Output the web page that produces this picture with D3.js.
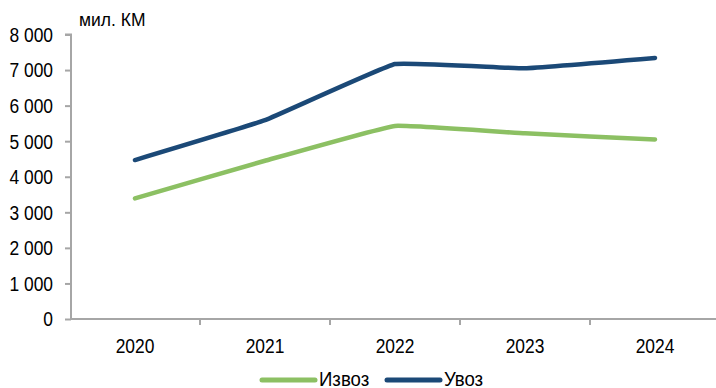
<!DOCTYPE html>
<html><head><meta charset="utf-8">
<script src="https://cdn.jsdelivr.net/npm/d3@7"></script>
<style>
body{margin:0;background:#fff;}
svg text{font-family:"Liberation Sans",Arial,sans-serif;fill:#000;}
</style></head>
<body><svg id="c" width="716" height="388"></svg>
<script>
const years = ["2020","2021","2022","2023","2024"];
const izvoz = [3390, 4450, 5430, 5220, 5050];
const uvoz  = [4470, 5590, 7170, 7050, 7340];
const yTicks = [0,1000,2000,3000,4000,5000,6000,7000,8000];
const seriesNames = ["Извоз","Увоз"];
const colors = ["#8CC063","#1B4977"];

const svg = d3.select("#c");
const x = d3.scaleBand().domain(years).range([70,720]);
const y = d3.scaleLinear().domain([0,8000]).range([319,34.5]);
const fmt = v => d3.format(",")(v).replace(/,/g," ");

// y axis
const ya = svg.append("g").attr("transform","translate(71,0)")
  .call(d3.axisLeft(y).tickValues(yTicks).tickSize(6).tickPadding(12).tickFormat(fmt));
ya.select(".domain").attr("stroke","#A6A6A6").attr("stroke-width",2).attr("d","M-6,34.5H0V319");
ya.selectAll(".tick line").attr("stroke","#A6A6A6").attr("stroke-width",2);
ya.selectAll(".tick text").attr("font-size","20px").attr("dy","0.34em").attr("data-s",0.87);

// x axis
const xa = svg.append("g").attr("transform","translate(0,319)")
  .call(d3.axisBottom(x).tickSize(0).tickPadding(20));
xa.select(".domain").attr("stroke","#A6A6A6").attr("stroke-width",2).attr("d","M70,0H716");
xa.selectAll(".tick text").attr("font-size","20px").attr("data-s",0.87);
svg.append("g").selectAll("line").data(years.slice(1)).join("line")
  .attr("x1",d=>x(d)).attr("x2",d=>x(d)).attr("y1",319).attr("y2",325)
  .attr("stroke","#A6A6A6").attr("stroke-width",2);

// unit label
svg.append("text").attr("x",79).attr("y",26).attr("font-size","19px").attr("data-s",0.92).text("мил. КМ");

// lines
const line = d3.line().x((d,i)=>x(years[i])+x.bandwidth()/2).y(d=>y(d)).curve(d3.curveCardinal.tension(0.75));
[izvoz,uvoz].forEach((s,i)=>{
  svg.append("path").attr("d",line(s)).attr("fill","none").attr("stroke",colors[i])
    .attr("stroke-width",4.5).attr("stroke-linecap","round").attr("stroke-linejoin","round");
});

// legend
const legX = [262,387];
seriesNames.forEach((n,i)=>{
  svg.append("line").attr("x1",legX[i]).attr("x2",legX[i]+53).attr("y1",380).attr("y2",380)
    .attr("stroke",colors[i]).attr("stroke-width",5).attr("stroke-linecap","round");
  svg.append("text").attr("x",legX[i]+57).attr("y",385.5).attr("font-size","20px").attr("data-s",0.93).text(n);
});

// condense text to mimic narrow font
svg.selectAll("text").each(function(){
  const s = +this.getAttribute("data-s") || 0.87;
  const w = this.getComputedTextLength();
  d3.select(this).attr("textLength", w*s).attr("lengthAdjust","spacingAndGlyphs");
});
</script></body></html>
